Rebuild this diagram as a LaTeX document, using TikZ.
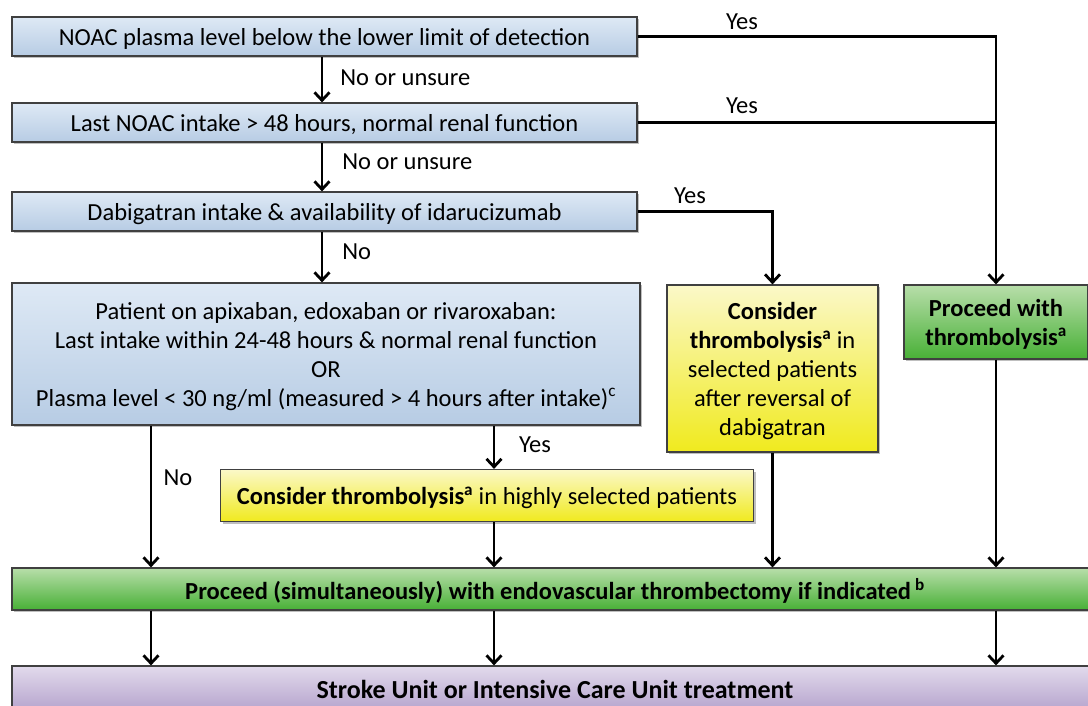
\documentclass[tikz,border=0pt]{standalone}
\usepackage{fontspec}
\setmainfont{Carlito}
\usetikzlibrary{arrows.meta,shadows}
\tikzset{
  box/.style={draw=black!75, line width=1.2pt, inner sep=2pt, align=center, text depth=0pt, font=\fontsize{24.5}{29}\selectfont,
    drop shadow={shadow xshift=2pt, shadow yshift=-2pt, opacity=0.25, fill=black}},
  bluebox/.style={box, top color={rgb,255:red,222;green,233;blue,245}, bottom color={rgb,255:red,183;green,204;blue,228}},
  yelbox/.style={box, top color={rgb,255:red,251;green,248;blue,200}, bottom color={rgb,255:red,240;green,234;blue,30}},
  grnbox/.style={box, top color={rgb,255:red,184;green,222;blue,170}, bottom color={rgb,255:red,72;green,176;blue,54}},
  purbox/.style={box, top color={rgb,255:red,226;green,218;blue,236}, bottom color={rgb,255:red,180;green,162;blue,204}},
  conn/.style={line width=2.8pt, -{Straight Barb[length=8pt,width=15pt]}},
  plain/.style={line width=2.8pt},
  lbl/.style={font=\fontsize{24.5}{29}\selectfont, inner sep=0pt},
}
\begin{document}
\begin{tikzpicture}[x=1pt,y=-1pt]
\clip (0,0) rectangle (1088,706);
\fill[white] (0,0) rectangle (1088,706);

\node[bluebox, minimum width=625pt, minimum height=39pt] (b1) at (324.5,36.5) {NOAC plasma level below the lower limit of detection};
\node[bluebox, minimum width=625pt, minimum height=39pt] (b2) at (324.5,122.5) {Last NOAC intake > 48 hours, normal renal function};
\node[bluebox, minimum width=625pt, minimum height=39pt] (b3) at (324.5,211.5) {Dabigatran intake \& availability of idarucizumab};
\node[bluebox, minimum width=628pt, minimum height=142pt] (b4) at (326,354) {Patient on apixaban, edoxaban or rivaroxaban:\\Last intake within 24-48 hours \& normal renal function\\OR\\Plasma level < 30 ng/ml (measured > 4 hours after intake)\textsuperscript{c}};
\node[yelbox, minimum width=211pt, minimum height=167pt] (yd) at (772.5,368.5) {\textbf{Consider}\\\textbf{thrombolysis\textsuperscript{a}} in\\selected patients\\after reversal of\\dabigatran};
\node[grnbox, minimum width=184pt, minimum height=74pt] (gr) at (996,322) {\textbf{Proceed with}\\\textbf{thrombolysis\textsuperscript{a}}};
\node[yelbox, minimum width=533pt, minimum height=52pt] (y2) at (487,495.5) {\textbf{Consider thrombolysis\textsuperscript{a}} in highly selected patients};
\node[grnbox, minimum width=1086pt, minimum height=42pt] (gb) at (555,589) {\textbf{Proceed (simultaneously) with endovascular thrombectomy if indicated\,\textsuperscript{b}}};
\node[purbox, minimum width=1086pt, minimum height=46pt, font=\fontsize{26}{30}\selectfont] (pb) at (555,689) {\textbf{Stroke Unit or Intensive Care Unit treatment}};

\coordinate (cA) at (151,0);
\coordinate (cB) at (494,0);
\coordinate (cC) at (322,0);

\draw[conn] (cC |- b1.south) -- (cC |- b2.north) node[lbl, pos=0.47, right=17pt] (l1) {No or unsure};
\draw[conn] (cC |- b2.south) -- (cC |- b3.north) node[lbl, pos=0.4, right=19pt] (l2) {No or unsure};
\draw[conn] (cC |- b3.south) -- (cC |- b4.north) node[lbl, pos=0.4, right=19pt] (l3) {No};

\draw[conn] (b1.east) -| (gr.north);
\draw[plain] (b2.east) -- (b2.east -| gr.north);
\draw[conn] (b3.east) -| (yd.north);
\node[lbl] (yes1) at (742,22) {Yes};
\node[lbl] (yes2) at (742,106) {Yes};
\node[lbl] (yes3) at (690,196) {Yes};

\draw[conn] (cA |- b4.south) -- (cA |- gb.north);
\node[lbl] (no4) at (178,478) {No};
\draw[conn] (cB |- b4.south) -- (cB |- y2.north);
\node[lbl] (yes4) at (535,445) {Yes};
\draw[conn] (cB |- y2.south) -- (cB |- gb.north);
\draw[conn] (yd.south) -- (yd.south |- gb.north);
\draw[conn] (gr.south) -- (gr.south |- gb.north);

\draw[conn] (cA |- gb.south) -- (cA |- pb.north);
\draw[conn] (cB |- gb.south) -- (cB |- pb.north);
\draw[conn] (gr.south |- gb.south) -- (gr.south |- pb.north);
\end{tikzpicture}
\end{document}
